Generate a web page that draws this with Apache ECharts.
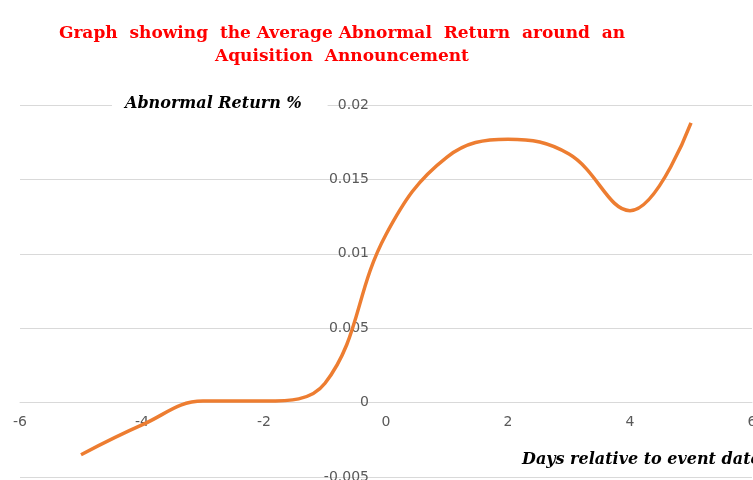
<!DOCTYPE html>
<html lang="en">
<head>
<meta charset="UTF-8">
<title>Average Abnormal Return</title>
<script src="https://cdn.jsdelivr.net/npm/echarts@6/dist/echarts.min.js"></script>
<style>
  html, body { margin: 0; padding: 0; background: #fff; }
  #chart { width: 753px; height: 480px; }
</style>
</head>
<body>
<div id="chart"></div>
<script>
    // days relative to the announcement, and the average abnormal return
    var days = [-5, -4, -3, -2, -1, 0, 1, 2, 3, 4, 5];
    var abnormalReturn = [-0.0035, -0.0015, 0.0001, 0.0001, 0.0013, 0.0113, 0.0165, 0.0177, 0.0167, 0.0129, 0.0188];

    var titleLines = ['Graph  showing  the Average Abnormal  Return  around  an', 'Aquisition  Announcement'];
    var yName = 'Abnormal Return %';
    var xName = 'Days relative to event date';

    var points = days.map(function (d, i) { return [d, abnormalReturn[i]]; });

    var chart = echarts.init(document.getElementById('chart'));

    // axes cross at zero: grid is 732 x 372, so x=0 sits 366px in and y=0 sits 75px up
    chart.setOption({
        animation: false,
        grid: { left: 20, right: 1, top: 105, bottom: 3, outerBoundsMode: 'none' },
        xAxis: {
            type: 'value',
            min: -6, max: 6, interval: 2,
            offset: -75,
            axisLine: { onZero: false, lineStyle: { color: '#d9d9d9', width: 1 } },
            axisTick: { show: false },
            splitLine: { show: false },
            axisLabel: { margin: 13, color: '#595959', fontSize: 14, fontFamily: 'DejaVu Sans' }
        },
        yAxis: {
            type: 'value',
            min: -0.005, max: 0.02, interval: 0.005,
            offset: -366,
            axisLine: { show: false, onZero: false },
            axisTick: { show: false },
            splitLine: { lineStyle: { color: '#d9d9d9', width: 1 } },
            axisLabel: { margin: 17, color: '#595959', fontSize: 14, fontFamily: 'DejaVu Sans' }
        },
        graphic: [
            {
                type: 'text', z: 100,
                style: {
                    x: 342, y: 22, text: titleLines.join('\n'),
                    fill: '#ff0000', font: 'bold 17px "DejaVu Serif"',
                    align: 'center', verticalAlign: 'top', lineHeight: 23
                }
            },
            {
                type: 'text', z: 100,
                style: {
                    x: 112, y: 94, text: yName,
                    fill: '#000', font: 'italic bold 16px "DejaVu Serif"',
                    backgroundColor: '#fff', padding: [2, 26, 2, 13],
                    align: 'left', verticalAlign: 'top'
                }
            },
            {
                type: 'text', z: 100,
                style: {
                    x: 522, y: 452, text: xName,
                    fill: '#000', font: 'italic bold 16px "DejaVu Serif"',
                    align: 'left', verticalAlign: 'top'
                }
            }
        ],
        series: [{
            type: 'line',
            data: points,
            smooth: 0.4,
            showSymbol: false,
            lineStyle: { color: '#ed7d31', width: 3.5 },
            itemStyle: { color: '#ed7d31' }
        }]
    });
</script>
</body>
</html>
